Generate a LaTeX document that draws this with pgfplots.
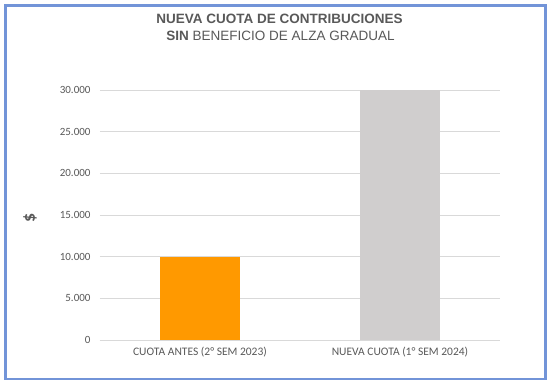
\documentclass[border=0pt]{standalone}
\usepackage{pgfplots}
\pgfplotsset{compat=1.18}
\usepackage{fontspec}
\setmainfont{Carlito}
\newfontfamily\arialfont{Liberation Sans}
\definecolor{txtgray}{HTML}{595959}
\definecolor{gridgray}{HTML}{D9D9D9}
\definecolor{barorange}{HTML}{FF9900}
\definecolor{bargray}{HTML}{D0CECE}
\definecolor{frameblue}{HTML}{7294D8}
\begin{document}
\begin{tikzpicture}[x=1bp,y=1bp]
\fill[white] (-100,-44) rectangle (451,340);
\draw[frameblue,line width=2.2bp] (-94.5,-39) rectangle (445.5,334.5);
\begin{axis}[
  at={(0,0)}, anchor=south west,
  scale only axis,
  width=400bp, height=250bp,
  xmin=-0.5, xmax=1.5,
  ymin=0, ymax=30000,
  xtick={0,1},
  xticklabels={CUOTA ANTES (2° SEM 2023), NUEVA CUOTA (1° SEM 2024)},
  ytick={0,5000,10000,15000,20000,25000,30000},
  xtick pos=bottom, ytick pos=left,
  scaled y ticks=false,
  /pgf/number format/fixed,
  /pgf/number format/1000 sep={.},
  /pgf/number format/assume math mode=true,
  ymajorgrids,
  grid style={gridgray,line width=0.8bp},
  axis line style={draw=none},
  major tick length=0pt,
  tick label style={font=\fontsize{11bp}{12bp}\selectfont,text=txtgray},
  yticklabel style={xshift=-6bp},
  xticklabel style={font=\fontsize{11.5bp}{13bp}\selectfont,text=txtgray,yshift=-4bp},
  ybar, bar width=80bp,
  clip=false,
]
\draw[gridgray,line width=0.8bp] (rel axis cs:0,0) -- (rel axis cs:1,0);
\addplot[fill=barorange,draw=none,bar shift=0pt] coordinates {(0,10000)};
\addplot[fill=bargray,draw=none,bar shift=0pt] coordinates {(1,30000)};
\end{axis}
\node[rotate=90,text=txtgray,font=\fontsize{18bp}{18bp}\selectfont\bfseries] at (-70,122) {\$};
\node[text=txtgray,font=\arialfont\fontsize{13.5bp}{15bp}\selectfont\bfseries] at (179.5,321) {NUEVA CUOTA DE CONTRIBUCIONES};
\node[text=txtgray,font=\arialfont\fontsize{13.5bp}{15bp}\selectfont] at (180.5,304) {\textbf{SIN} BENEFICIO DE ALZA GRADUAL};
\end{tikzpicture}
\end{document}
